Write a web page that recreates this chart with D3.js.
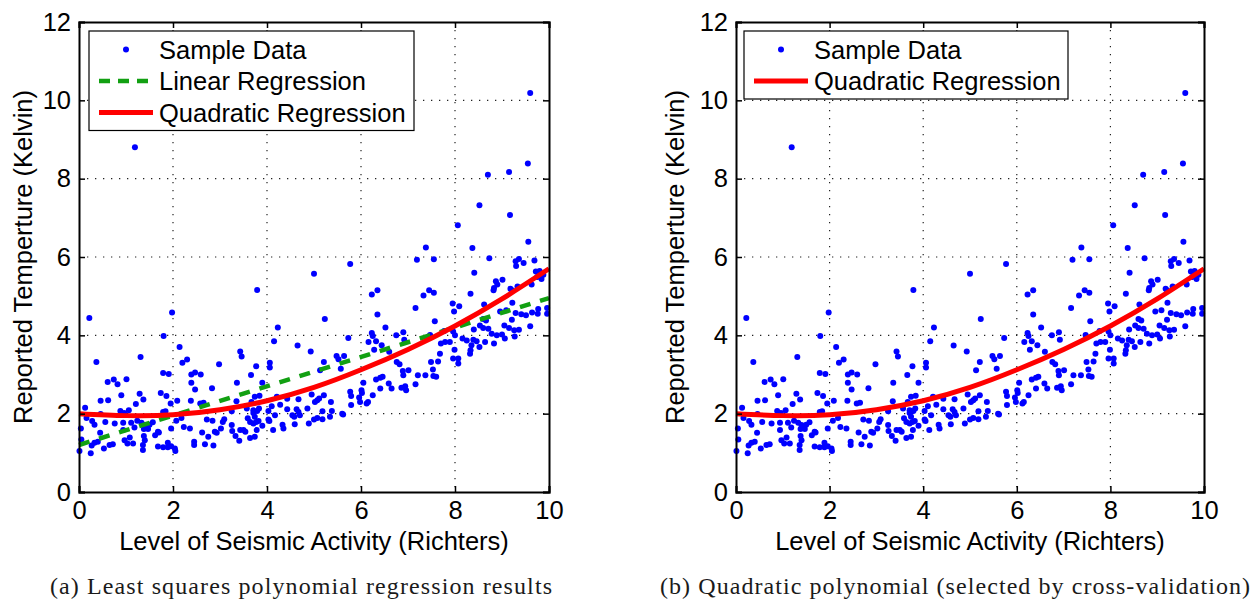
<!DOCTYPE html>
<meta charset="utf-8">

<script src="https://d3js.org/d3.v7.min.js"></script>

<style type="text/css">

body { margin: 0; background: #fff; }
svg text { font-family: "Liberation Sans", Arial, Helvetica, sans-serif; fill: #000; }
.caption { font-family: "Liberation Serif", "DejaVu Serif", serif; fill: #1a1a1a; }

</style>

<body>
</body>

<script>

// Sample data (same points in both panels)
// level of seismic activity (Richters)
var richter = [
  0.22,1.98,1.19,1.80,2.14, 0.37,1.31,2.20,2.30,1.79, 1.91,2.39,2.47,2.59,0.61, 0.74,0.82,1.01,2.39,2.47,
  0.90,1.29,1.37,0.46,0.62, 1.74,1.86,1.95,1.21,0.13, 2.09,2.38,2.58,0.88,1.06, 0.96,0.46,1.79,1.84,0.16,
  0.28,0.33,0.56,0.76,0.94, 1.11,1.24,1.33,1.40,1.50, 1.57,0.04,0.45,0.94,1.18, 1.38,1.47,1.68,1.96,2.07,
  2.18,2.23,2.36,2.62,0.05, 0.33,0.40,0.27,0.53,0.65, 0.72,0.97,1.03,1.15,1.08, 1.38,1.40,1.36,1.36,1.62,
  1.70,1.68,1.79,1.89,1.89, 1.96,2.04,2.05,2.45,2.45, 0.01,0.25,
  3.79,4.23,4.15,4.65,3.43, 3.46,4.93,2.98,3.77,4.06, 4.06,5.21,3.66,3.36,3.90, 2.83,2.65,3.74,3.84,3.67,
  3.35,4.21,4.43,4.67,4.95, 5.02,5.07,5.11,3.25,3.57, 3.71,3.79,3.83,4.03,4.10, 4.28,4.43,4.63,4.67,4.70,
  4.86,5.18,2.72,2.84,3.06, 3.09,3.59,3.64,3.71,3.77, 3.82,3.74,3.71,4.03,4.05, 4.17,4.33,4.54,4.58,4.59,
  4.89,5.00,5.07,5.18,2.89, 2.93,2.75,3.02,3.25,3.26, 3.43,3.50,3.54,3.33,3.41, 3.64,3.74,3.78,3.90,4.13,
  4.35,2.68,2.86,
  5.77,5.00,7.38,7.19,7.55, 6.23,6.35,7.45,7.55,7.33, 7.16,5.23,6.35,7.57,6.52, 5.73,6.23,6.25,6.16,6.32,
  6.44,6.75,6.90,6.92,6.28, 6.60,7.47,5.48,5.52,5.64, 5.57,5.13,6.76,6.82,7.49, 7.68,7.64,6.89,7.01,6.90,
  7.53,7.37,7.54,7.60,7.21, 6.32,6.41,6.46,6.59,6.65, 6.41,6.05,6.86,6.94,6.96, 7.16,5.77,5.79,6.01,6.02,
  6.25,5.79,5.96,5.98,6.12, 6.15,5.21,5.36,5.38,5.34, 5.60,5.62,
  9.60,9.55,9.15,8.70,8.52, 9.17,8.06,9.56,8.37,8.73, 9.36,9.29,9.46,9.30,9.69, 8.41,9.72,9.80,9.84,9.75,
  9.84,9.88,8.87,8.83,8.82, 8.90,9.01,9.18,9.21,9.33, 9.63,8.33,7.95,7.98,8.09, 8.62,9.22,8.96,9.09,9.29,
  9.41,9.51,9.64,9.76,9.77, 9.96,9.96,9.21,9.60,9.05, 9.15,9.26,9.36,9.27,8.60, 8.66,8.53,8.60,8.71,8.40,
  8.78,8.89,9.00,9.06,8.64, 8.52,8.83,7.77,7.96,8.00, 8.16,8.25,8.39,8.46,8.35, 8.33,8.32,7.70,7.79,7.89,
  7.99,7.96,8.07,8.07
];

// reported temperature (Kelvin), same order as richter
var kelvin = [
  4.44,4.58,8.80,3.98,3.70, 3.32,3.45,3.30,3.38,3.04, 3.01,3.00,3.05,3.00,2.81, 2.87,2.75,2.88,2.79,2.62,
  2.47,2.51,2.36,2.33,2.34, 2.53,2.45,2.26,2.25,2.15, 2.33,2.33,2.26,2.07,2.09, 2.02,1.99,2.04,2.06,1.89,
  1.81,1.72,1.79,1.75,1.77, 1.77,1.82,1.77,1.71,1.72, 1.78,1.62,1.51,1.58,1.65, 1.61,1.61,1.54,1.62,1.82,
  1.89,1.66,1.62,1.52,1.34, 1.26,1.28,1.19,1.11,1.20, 1.22,1.32,1.24,1.24,1.39, 1.43,1.32,1.20,1.07,1.45,
  1.52,1.16,1.14,1.14,1.26, 1.17,1.11,1.05,1.28,1.20, 1.05,0.99,
  5.16,4.20,3.85,3.74,3.59, 3.46,3.59,3.26,3.21,3.30, 3.18,3.32,2.99,2.79,2.79, 2.65,2.28,2.43,2.46,2.30,
  2.32,2.43,2.38,2.37,2.49, 2.30,2.34,2.39,2.06,2.13, 2.09,2.07,2.13,2.07,2.19, 2.23,2.11,2.11,2.04,1.96,
  2.13,2.06,1.85,1.82,1.79, 1.86,1.88,1.79,1.75,1.79, 1.81,1.92,2.02,1.85,1.81, 1.96,1.72,1.96,1.92,1.73,
  1.75,1.85,1.89,1.86,1.54, 1.51,1.41,1.62,1.71,1.56, 1.58,1.58,1.54,1.43,1.31, 1.38,1.41,1.58,1.69,1.58,
  1.62,1.22,1.19,
  5.82,5.57,6.24,5.93,5.94, 5.04,5.15,5.15,5.09,5.02, 4.70,4.42,4.53,4.36,4.20, 3.93,4.06,3.98,3.83,3.85,
  3.75,4.00,4.08,3.89,3.63, 3.58,4.01,3.47,3.39,3.47, 3.15,3.11,3.32,3.26,3.32, 3.53,3.33,3.09,3.11,2.98,
  3.13,2.98,2.96,2.94,2.98, 2.87,2.92,2.94,2.77,2.64, 2.64,2.79,2.66,2.70,2.60, 2.75,2.56,2.45,2.60,2.53,
  2.47,2.22,2.41,2.30,2.26, 2.30,2.47,2.30,2.07,1.92, 2.00,1.98,
  10.19,8.39,8.17,8.10,7.32, 7.07,6.81,6.39,6.23,5.97, 5.95,5.89,5.85,5.77,5.91, 5.60,5.63,5.64,5.57,5.49,
  5.44,5.55,5.38,5.21,5.15, 5.30,5.42,5.19,5.15,5.25, 5.30,5.06,4.81,4.61,4.74, 4.79,4.83,4.61,4.64,4.57,
  4.54,4.51,4.58,4.55,4.67, 4.70,4.55,4.40,4.23,4.25, 4.19,4.13,4.14,3.97,4.42, 4.38,4.25,4.19,4.17,4.15,
  4.04,4.00,4.02,3.92,3.83, 3.70,3.79,4.11,4.10,4.00, 3.92,3.87,3.89,3.85,3.75, 3.62,3.53,3.79,3.83,3.83,
  3.63,3.41,3.41,3.28
];

// fitted curves
var fitX = [0, 1, 2, 3, 4, 5, 6, 7, 8, 9, 10];
var quadFit = [2.00, 1.95, 1.97, 2.10, 2.33, 2.67, 3.12, 3.64, 4.24, 4.93, 5.70];
var linX = [0, 10];
var linFit = [1.20, 4.95];

var xTicks = [0, 2, 4, 6, 8, 10];
var yTicks = [0, 2, 4, 6, 8, 10, 12];

var points = richter.map(function(d, i) { return {x: d, y: kelvin[i]}; });
var quadLine = fitX.map(function(d, i) { return {x: d, y: quadFit[i]}; });
var linLine = linX.map(function(d, i) { return {x: d, y: linFit[i]}; });

var blue = "#0000ff", red = "#ff0000", green = "#12a012";
var fontSize = 25.5;

var svg = d3.select("body").append("svg")
  .attr("width", 1255)
  .attr("height", 599);

var panels = [
  {left: 79, top: 22, width: 470, height: 470, yLabelX: 32,
   legendX: 89, legendW: 325, showLinear: true,
   caption: "(a) Least squares polynomial regression results", capX: 50, capW: 502},
  {left: 736, top: 22, width: 468, height: 470, yLabelX: 684,
   legendX: 744, legendW: 324, showLinear: false,
   caption: "(b) Quadratic polynomial (selected by cross-validation)", capX: 660, capW: 590}
];

panels.forEach(drawPanel);

function drawPanel(p) {
  var w = p.width, h = p.height;

  var xScale = d3.scaleLinear().domain([0, 10]).range([0, w]);
  var yScale = d3.scaleLinear().domain([0, 12]).range([h, 0]);

  var g = svg.append("g")
    .attr("transform", "translate(" + p.left + "," + p.top + ")");

  // white plot background
  g.append("rect").attr("width", w).attr("height", h).attr("fill", "#fff");

  // dotted grid
  g.selectAll(".gx").data(xTicks.slice(1, -1)).enter().append("line")
    .attr("x1", function(d) { return xScale(d); })
    .attr("x2", function(d) { return xScale(d); })
    .attr("y1", 0).attr("y2", h)
    .attr("stroke", "#222").attr("stroke-width", 1.2)
    .attr("stroke-dasharray", "1.3,6.7");
  g.selectAll(".gy").data(yTicks.slice(1, -1)).enter().append("line")
    .attr("y1", function(d) { return yScale(d); })
    .attr("y2", function(d) { return yScale(d); })
    .attr("x1", 0).attr("x2", w)
    .attr("stroke", "#222").attr("stroke-width", 1.2)
    .attr("stroke-dasharray", "1.3,6.7");

  // scatter
  g.append("g").selectAll("circle").data(points).enter().append("circle")
    .attr("cx", function(d) { return xScale(d.x); })
    .attr("cy", function(d) { return yScale(d.y); })
    .attr("r", 3)
    .attr("fill", blue);

  var line = d3.line()
    .x(function(d) { return xScale(d.x); })
    .y(function(d) { return yScale(d.y); });

  if (p.showLinear) {
    g.append("path").datum(linLine)
      .attr("d", line)
      .attr("fill", "none")
      .attr("stroke", green)
      .attr("stroke-width", 4.5)
      .attr("stroke-dasharray", "11,10");
  }

  g.append("path").datum(quadLine)
    .attr("d", line.curve(d3.curveNatural))
    .attr("fill", "none")
    .attr("stroke", red)
    .attr("stroke-width", 5);

  // axes: ticks inside, labels outside, box on all sides
  var xAxis = d3.axisBottom(xScale).tickValues(xTicks).tickSize(-6).tickPadding(9).tickFormat(d3.format("d"));
  var yAxis = d3.axisLeft(yScale).tickValues(yTicks).tickSize(-6).tickPadding(8).tickFormat(d3.format("d"));
  var xTop = d3.axisTop(xScale).tickValues(xTicks).tickSize(-6).tickFormat("");
  var yRight = d3.axisRight(yScale).tickValues(yTicks).tickSize(-6).tickFormat("");

  var axes = [
    g.append("g").attr("transform", "translate(0," + h + ")").call(xAxis),
    g.append("g").call(yAxis),
    g.append("g").call(xTop),
    g.append("g").attr("transform", "translate(" + w + ",0)").call(yRight)
  ];
  axes.forEach(function(a) {
    a.select(".domain").attr("stroke", "#000").attr("stroke-width", 2);
    a.selectAll(".tick line").attr("stroke", "#000").attr("stroke-width", 1.5);
    a.selectAll(".tick text").attr("font-size", fontSize)
      .attr("font-family", "Liberation Sans, Arial, sans-serif").attr("fill", "#000");
  });

  // axis titles
  g.append("text")
    .attr("x", w / 2).attr("y", 528)
    .attr("text-anchor", "middle")
    .attr("font-size", fontSize)
    .text("Level of Seismic Activity (Richters)");

  svg.append("text")
    .attr("transform", "translate(" + p.yLabelX + "," + (p.top + h / 2) + ") rotate(-90)")
    .attr("text-anchor", "middle")
    .attr("font-size", fontSize)
    .text("Reported Temperture (Kelvin)");

  // legend
  var entries = [{name: "Sample Data", type: "dot"}];
  if (p.showLinear) entries.push({name: "Linear Regression", type: "lin"});
  entries.push({name: "Quadratic Regression", type: "quad"});

  var rowH = 31.5;
  var lg = svg.append("g").attr("transform", "translate(" + p.legendX + ",31)");
  lg.append("rect")
    .attr("width", p.legendW)
    .attr("height", 5 + rowH * entries.length)
    .attr("fill", "#fff")
    .attr("stroke", "#000")
    .attr("stroke-width", 1.2);

  var rows = lg.selectAll(".row").data(entries).enter().append("g")
    .attr("transform", function(d, i) { return "translate(0," + (18.5 + i * rowH) + ")"; });

  rows.filter(function(d) { return d.type === "dot"; }).append("circle")
    .attr("cx", 37).attr("cy", 0).attr("r", 3).attr("fill", blue);
  rows.filter(function(d) { return d.type === "lin"; }).append("line")
    .attr("x1", 10).attr("x2", 64)
    .attr("stroke", green).attr("stroke-width", 4.5)
    .attr("stroke-dasharray", "11,8");
  rows.filter(function(d) { return d.type === "quad"; }).append("line")
    .attr("x1", 10).attr("x2", 64)
    .attr("stroke", red).attr("stroke-width", 5);

  rows.append("text")
    .attr("x", 70).attr("dy", "0.36em")
    .attr("font-size", fontSize)
    .attr("fill", "#222")
    .text(function(d) { return d.name; });

  // sub-figure caption
  svg.append("text")
    .attr("class", "caption")
    .attr("x", p.capX).attr("y", 594)
    .attr("font-size", 24)
    .attr("textLength", p.capW)
    .attr("lengthAdjust", "spacing")
    .text(p.caption);
}

</script>
